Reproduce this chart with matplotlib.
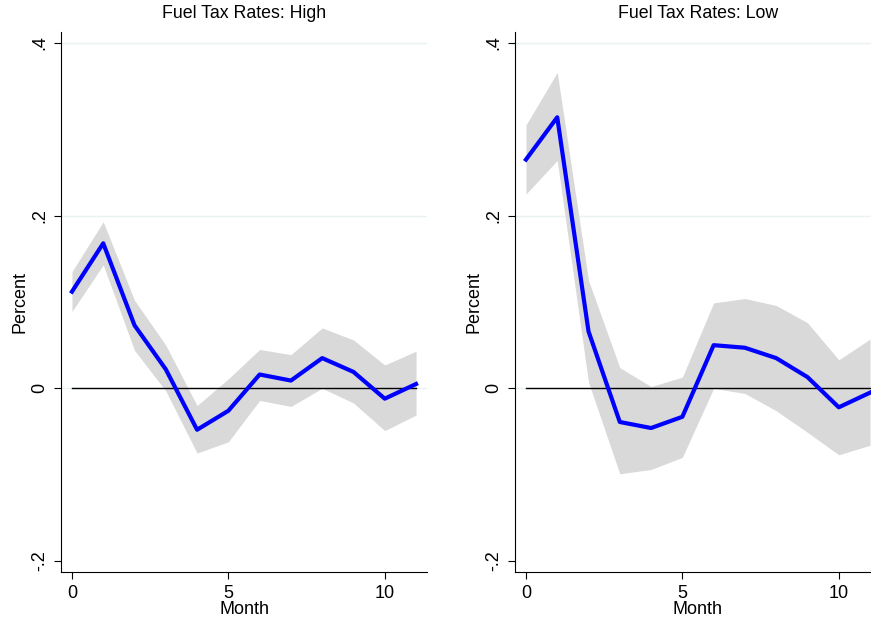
import numpy as np
import matplotlib
matplotlib.use("Agg")
import matplotlib.pyplot as plt

plt.rcParams['font.family'] = ['Liberation Sans', 'DejaVu Sans']

months = np.arange(12)

# impulse responses, high fuel tax states
high_est = [0.112, 0.168, 0.073, 0.022, -0.048, -0.026, 0.016, 0.009, 0.035, 0.019, -0.012, 0.005]
high_upper = [0.135, 0.193, 0.102, 0.050, -0.020, 0.011, 0.045, 0.039, 0.070, 0.056, 0.027, 0.043]
high_lower = [0.089, 0.143, 0.044, -0.003, -0.075, -0.062, -0.014, -0.021, 0.000, -0.017, -0.049, -0.031]

# impulse responses, low fuel tax states
low_est = [0.265, 0.314, 0.066, -0.039, -0.046, -0.033, 0.050, 0.047, 0.035, 0.013, -0.022, -0.005]
low_upper = [0.305, 0.366, 0.125, 0.024, 0.002, 0.013, 0.099, 0.104, 0.096, 0.076, 0.033, 0.057]
low_lower = [0.225, 0.264, 0.007, -0.099, -0.094, -0.080, 0.000, -0.006, -0.026, -0.051, -0.077, -0.066]

titles = ["Fuel Tax Rates: High", "Fuel Tax Rates: Low"]
yticks = [-0.2, 0, 0.2, 0.4]
ytick_labels = ["-.2", "0", ".2", ".4"]
xticks = [0, 5, 10]

panels = [(high_est, high_upper, high_lower), (low_est, low_upper, low_lower)]

fig = plt.figure(figsize=(8.71, 6.19), dpi=100)
positions = [[61/871, 47/619, 366/871, 540/619],
             [515/871, 47/619, 366/871, 540/619]]

for pos, title, (est, up, lo) in zip(positions, titles, panels):
    ax = fig.add_axes(pos)
    ax.fill_between(months, lo, up, color="#d9d9d9", linewidth=0, zorder=1)
    ax.plot([months[0], months[-1]], [0, 0], color="black", linewidth=1.0, zorder=2)
    ax.plot(months, est, color="#0000ff", linewidth=3.0, zorder=3)
    for yv in [0, 0.2, 0.4]:
        ax.axhline(yv, color="#eaf2f3", linewidth=1.0, zorder=0)
    ax.set_xlim(-0.35, 11.35)
    ax.set_ylim(-0.2128, 0.4128)
    ax.set_yticks(yticks)
    ax.set_yticklabels(ytick_labels, rotation=90, va="center", fontsize=13)
    ax.set_xticks(xticks)
    ax.set_xticklabels([str(t) for t in xticks], fontsize=13)
    ax.tick_params(direction="out", length=5, width=0.8, pad=4)
    for side in ["top", "right"]:
        ax.spines[side].set_visible(False)
    ax.set_ylabel("Percent", fontsize=13)
    ax.yaxis.set_label_coords(-0.09, 0.5)
    ax.set_xlabel("Month", fontsize=13, labelpad=0)
    ax.set_title(title, fontsize=12.8, pad=10)

fig.savefig("out.png", dpi=100, facecolor="white")
